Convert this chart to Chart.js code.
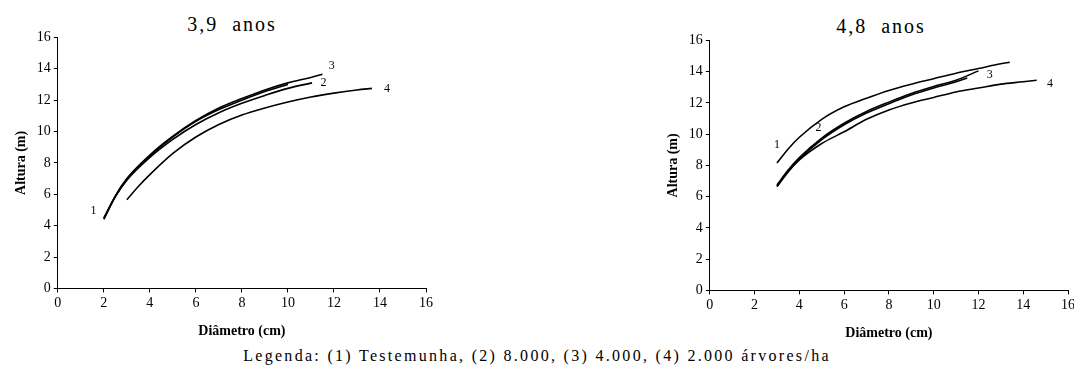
<!DOCTYPE html>
<html>
<head>
<meta charset="utf-8">
<script src="https://cdn.jsdelivr.net/npm/chart.js@4.4.1/dist/chart.umd.min.js"></script>
<style>
    html, body { margin: 0; padding: 0; background: #fff; overflow: hidden; }
    body { width: 1074px; height: 375px; position: relative; font-family: "Liberation Serif", serif; color: #000; }
    .box { position: absolute; }
    .titulo { position: absolute; font-size: 20px; letter-spacing: 2px; word-spacing: 7px; white-space: nowrap; transform: translateX(-50%); }
    #legenda { position: absolute; left: 537px; top: 347px; font-size: 16px; letter-spacing: 2.3px; white-space: nowrap; transform: translateX(-50%); }
</style>
</head>
<body>
<div class="titulo" style="left:232px; top:13px;">3,9 anos</div>
<div class="titulo" style="left:881px; top:15px;">4,8 anos</div>
<div class="box" style="left:0px; top:26px; width:440px; height:318px;"><canvas id="chart39"></canvas></div>
<div class="box" style="left:652px; top:29px; width:426px; height:317px;"><canvas id="chart48"></canvas></div>
<div id="legenda">Legenda: (1) Testemunha, (2) 8.000, (3) 4.000, (4) 2.000 árvores/ha</div>

<script>
// ---------------- 3,9 anos ----------------
const diam39_1 = [2, 2.5, 3, 4, 5, 6, 7, 8, 9, 10];
const alt39_1  = [4.4, 5.85, 6.95, 8.45, 9.65, 10.65, 11.4, 12.0, 12.55, 13.0];
const diam39_2 = [2, 2.5, 3, 4, 5, 6, 7, 8, 9, 10, 11.05];
const alt39_2  = [4.5, 5.85, 6.9, 8.35, 9.5, 10.45, 11.2, 11.8, 12.3, 12.75, 13.1];
const diam39_3 = [2, 2.5, 3, 4, 5, 6, 7, 8, 9, 10, 11, 11.5];
const alt39_3  = [4.45, 5.9, 7.0, 8.5, 9.7, 10.7, 11.5, 12.1, 12.65, 13.1, 13.45, 13.65];
const diam39_4 = [3, 3.5, 4, 5, 6, 7, 8, 9, 10, 11, 12, 13, 13.65];
const alt39_4  = [5.65, 6.5, 7.25, 8.6, 9.65, 10.45, 11.05, 11.5, 11.88, 12.2, 12.45, 12.65, 12.75];

// curve number labels (text, x, y in data units)
const rotulos39   = ['1', '2', '3', '4'];
const rotulos39_x = [1.55, 11.55, 11.9, 14.3];
const rotulos39_y = [4.95, 13.1, 14.2, 12.7];

// ---------------- 4,8 anos ----------------
const diam48_1 = [3, 3.5, 4, 5, 6, 7, 8, 9, 10, 11, 12, 13, 13.4];
const alt48_1  = [8.15, 9.05, 9.8, 10.95, 11.75, 12.3, 12.8, 13.2, 13.55, 13.9, 14.2, 14.5, 14.6];
const diam48_2 = [3, 3.5, 4, 5, 6, 7, 8, 9, 10, 11, 11.5];
const alt48_2  = [6.65, 7.6, 8.4, 9.65, 10.6, 11.35, 11.95, 12.5, 12.95, 13.35, 13.6];
const diam48_3 = [3, 3.5, 4, 5, 6, 7, 8, 9, 10, 11, 12];
const alt48_3  = [6.75, 7.7, 8.5, 9.75, 10.7, 11.45, 12.05, 12.6, 13.05, 13.45, 14.05];
const diam48_4 = [3, 3.5, 4, 5, 6, 7, 8, 9, 10, 11, 12, 13, 14, 14.6];
const alt48_4  = [6.65, 7.6, 8.35, 9.4, 10.15, 10.95, 11.55, 12.0, 12.35, 12.7, 12.95, 13.2, 13.35, 13.45];

const rotulos48   = ['1', '2', '3', '4'];
const rotulos48_x = [3.0, 4.85, 12.5, 15.2];
const rotulos48_y = [9.3, 10.4, 13.8, 13.25];

// axis ticks
const ticksX = [0, 2, 4, 6, 8, 10, 12, 14, 16];
const ticksY = [0, 2, 4, 6, 8, 10, 12, 14, 16];


function pontos(xs, ys)
{
    return xs.map((x, i) => ({ x: x, y: ys[i] }));
}

function serie(xs, ys)
{
    return {
        data: pontos(xs, ys),
        showLine: true,
        borderColor: '#000',
        backgroundColor: '#000',
        borderWidth: 1.6,
        pointRadius: 0,
        cubicInterpolationMode: 'monotone'
    };
}

// draws the little curve numbers next to the lines
const rotulosPlugin =
{
    id: 'rotulos',
    afterDatasetsDraw(chart, args, opts)
    {
        const ctx = chart.ctx;
        const sx = chart.scales.x, sy = chart.scales.y;
        ctx.save();
        ctx.fillStyle = '#000';
        ctx.font = '12px "Liberation Serif"';
        ctx.textAlign = 'center';
        ctx.textBaseline = 'middle';
        opts.texts.forEach((t, i) =>
        {
            ctx.fillText(t, sx.getPixelForValue(opts.xs[i]), sy.getPixelForValue(opts.ys[i]));
        });
        ctx.restore();
    }
};

function eixo(titulo, valores, tickPad, titlePad)
{
    return {
        type: 'linear',
        min: 0,
        max: 16,
        afterBuildTicks: (axis) => { axis.ticks = valores.map(v => ({ value: v })); },
        grid: { drawOnChartArea: false, drawTicks: true, tickLength: 4, color: '#000', lineWidth: 1 },
        border: { display: true, color: '#000', width: 1 },
        ticks: { color: '#000', font: { family: 'Liberation Serif', size: 14 }, padding: tickPad },
        title: { display: true, text: titulo, color: '#000', padding: titlePad,
                 font: { family: 'Liberation Serif', size: 14, weight: 'bold' } }
    };
}

function grafico(id, series, rotulos, rx, ry, padRight)
{
    return new Chart(document.getElementById(id),
    {
        type: 'scatter',
        data: { datasets: series },
        options:
        {
            responsive: true,
            maintainAspectRatio: false,
            animation: false,
            events: [],
            layout: { padding: { left: 9, right: padRight, top: 8, bottom: 0 } },
            plugins:
            {
                legend: { display: false },
                tooltip: { enabled: false },
                rotulos: { texts: rotulos, xs: rx, ys: ry }
            },
            scales:
            {
                x: eixo('Diâmetro (cm)', ticksX, 3, { top: 8, bottom: 4 }),
                y: eixo('Altura (m)', ticksY, 3, { top: 4, bottom: 4 })
            }
        },
        plugins: [rotulosPlugin]
    });
}

grafico('chart39',
    [serie(diam39_1, alt39_1), serie(diam39_2, alt39_2), serie(diam39_3, alt39_3), serie(diam39_4, alt39_4)],
    rotulos39, rotulos39_x, rotulos39_y, 14);

grafico('chart48',
    [serie(diam48_1, alt48_1), serie(diam48_2, alt48_2), serie(diam48_3, alt48_3), serie(diam48_4, alt48_4)],
    rotulos48, rotulos48_x, rotulos48_y, 6);
</script>
</body>
</html>
